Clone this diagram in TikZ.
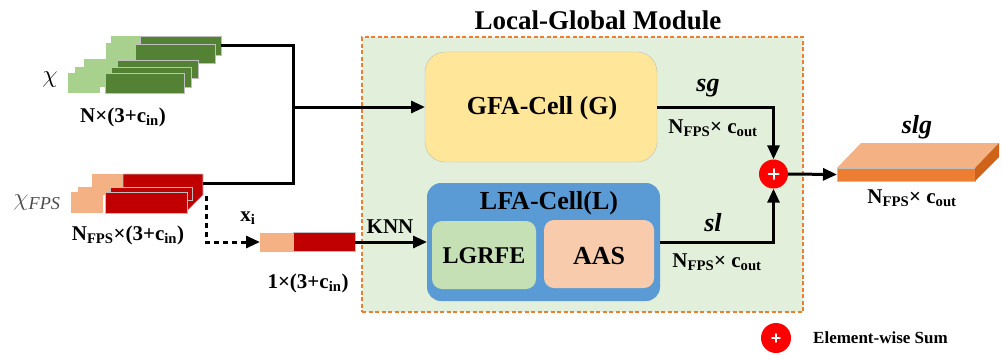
\documentclass[tikz,border=0pt]{standalone}
\usepackage{fontspec}
\setmainfont{Liberation Serif}
\usetikzlibrary{arrows.meta,calc}
\definecolor{lgreen}{HTML}{A9D18E}
\definecolor{dgreen}{HTML}{548235}
\definecolor{lorange}{HTML}{F4B183}
\definecolor{dred}{HTML}{C00000}
\definecolor{frameor}{HTML}{ED7D31}
\definecolor{framebg}{HTML}{E2EFDA}
\definecolor{gfacol}{HTML}{FFE699}
\definecolor{lfacol}{HTML}{5B9BD5}
\definecolor{lgrcol}{HTML}{C5E0B4}
\definecolor{aascol}{HTML}{F8CBAD}
\definecolor{slabtop}{HTML}{F4B183}
\definecolor{slabfront}{HTML}{ED7D31}
\definecolor{slabside}{HTML}{D0631A}
\definecolor{sumred}{HTML}{FF0000}
\definecolor{edgegray}{HTML}{BFBFBF}
\newcommand{\sbs}[1]{\textsubscript{#1}}
\begin{document}
\begin{tikzpicture}[x=1pt,y=-1pt,
  box/.style={inner sep=0pt, outer sep=0pt},
  conn/.style={line width=3pt},
  arr/.style={line width=3pt, -{Triangle[length=14pt,width=12pt]}},
  darr/.style={line width=3pt, dash pattern=on 5pt off 4pt, -{Triangle[length=14pt,width=12pt]}},
  lbl/.style={inner sep=0pt, font=\fontsize{21}{23}\selectfont\bfseries},
  big/.style={inner sep=0pt, font=\fontsize{26}{28}\selectfont\bfseries},
  ital/.style={inner sep=0pt, font=\fontsize{26}{28}\selectfont\bfseries\itshape},
  sumc/.style={circle, fill=sumred, inner sep=0pt, minimum size=#1},
  plus/.style={draw=white, line width=#1, line cap=round},
  piece/.style={draw=edgegray, line width=0.6pt}
]
\useasboundingbox (0,0) rectangle (1003,354);

% module frame
\node[box, draw=frameor, fill=framebg, line width=2pt, dash pattern=on 4pt off 2.5pt,
      minimum width=441, minimum height=275] (lgm) at (582.5,174.5) {};
\node[inner sep=0pt, font=\fontsize{27}{29}\selectfont\bfseries] (title) at (598,20) {Local-Global Module};

% GFA cell
\node[box, draw=edgegray, fill=gfacol, rounded corners=20pt, minimum width=232, minimum height=110] (gfa) at (541,107) {};
\node[big] (gfat) at (542,108) {GFA-Cell (G)};

% LFA cell
\node[box, fill=lfacol, rounded corners=14pt, minimum width=233, minimum height=118] (lfa) at (543.5,242) {};
\node[big] (lfat) at (549,203) {LFA-Cell(L)};
\node[box, fill=lgrcol, rounded corners=10pt, minimum width=104, minimum height=68] (lgr) at (484,255) {};
\node[inner sep=0pt, font=\fontsize{24}{26}\selectfont\bfseries] (lgrt) at (484,256) {LGRFE};
\node[box, fill=aascol, rounded corners=10pt, minimum width=110, minimum height=68] (aas) at (599,254) {};
\node[big] (aast) at (599,256) {AAS};

% green stack (chi)
\fill[lgreen] (111,36) rectangle (140,56);
\node[box, piece, fill=dgreen, minimum width=81, minimum height=19] (g1) at (180.5,45.5) {};
\fill[lgreen] (106,43) rectangle (135,63);
\filldraw[piece, fill=dgreen] (135,44) rectangle (215,63);
\fill[lgreen] (84,59) rectangle (117,78);
\filldraw[piece, fill=dgreen] (117,60) rectangle (198,78);
\fill[lgreen] (75,67) rectangle (107,87);
\filldraw[piece, fill=dgreen] (111,67) rectangle (191,87);
\fill[lgreen] (68,73) rectangle (100,93);
\filldraw[piece, fill=dgreen] (105,73) rectangle (184,93);

% red stack (chi_FPS)
\fill[lorange] (92,174) rectangle (123,190);
\filldraw[piece, fill=dred] (123,174) -- (203,174) -- (203,195) -- (187,211) -- (123,211) -- cycle;
\node[box, minimum width=80, minimum height=18] (r1) at (163,183) {};
\fill[lorange] (78,187) rectangle (110,195);
\filldraw[piece, fill=dred] (110,187) rectangle (192,200);
\fill[lorange] (71,192) rectangle (103,213);
\filldraw[piece, fill=dred] (105,192) rectangle (187,213);
\coordinate (xsrc) at (206,196);

% single point block
\node[box, fill=lorange, minimum width=33, minimum height=19] (sbl) at (276.5,242) {};
\node[box, piece, fill=dred, minimum width=62, minimum height=19] (sbd) at (324,242) {};

% sum and output
\node[sumc=29pt] (sum) at (773.5,174) {};
\draw[plus=2pt] ($(sum.center)+(-5,0)$) -- ($(sum.center)+(5,0)$);
\draw[plus=2pt] ($(sum.center)+(0,-5)$) -- ($(sum.center)+(0,5)$);
\node[box, fill=slabfront, draw=edgegray, line width=0.4pt, minimum width=138, minimum height=13] (slab) at (906,174.5) {};
\fill[slabtop] (slab.north west) -- ++(24,-25) -- ($(slab.north east)+(24,-25)$) -- (slab.north east) -- cycle;
\fill[slabside] (slab.north east) -- ++(24,-25) -- ++(0,14) -- (slab.south east) -- cycle;

% connectors
\coordinate (jn) at (293,107);
\draw[conn] (g1.east) -| (jn) |- (r1.east);
\draw[arr] (jn) -- (gfa.west);
\draw[darr] (xsrc) |- (sbl.west);
\draw[arr] (sbd.east) -- (lfa.west);
\draw[arr] (gfa.east) -| (sum.north);
\draw[arr] (lfa.east) -| (sum.south);
\draw[arr] (sum.east) -- (slab.west);

% labels
\node[inner sep=0pt, font=\fontsize{28}{30}\selectfont] (chil) at (50,80) {$\chi$};
\node[lbl] (nl) at (123,117) {N×(3+c\sbs{in})};
\node[inner sep=0pt, font=\fontsize{26}{28}\selectfont, text=black!70] (chifl) at (37,203) {$\chi_{\mathit{FPS}}$};
\node[lbl] (nfl) at (128,235) {N\sbs{FPS}×(3+c\sbs{in})};
\node[lbl] (xil) at (248,218) {x\sbs{i}};
\node[lbl] (onel) at (308,283) {1×(3+c\sbs{in})};
\node[lbl] (knnl) at (390,227) {KNN};
\node[ital] (sgl) at (708,88) {sg};
\node[lbl] (sgd) at (713,128) {N\sbs{FPS}× c\sbs{out}};
\node[ital] (sll) at (713,223) {sl};
\node[lbl] (sld) at (717,262) {N\sbs{FPS}× c\sbs{out}};
\node[ital] (slgl) at (917,127) {slg};
\node[lbl] (slgd) at (912,198) {N\sbs{FPS}× c\sbs{out}};

% legend
\node[sumc=30pt] (legc) at (776,338) {};
\draw[plus=1.6pt] ($(legc.center)+(-4,0)$) -- ($(legc.center)+(4,0)$);
\draw[plus=1.6pt] ($(legc.center)+(0,-4)$) -- ($(legc.center)+(0,4)$);
\node[inner sep=0pt, anchor=west, font=\fontsize{17}{19}\selectfont\bfseries] (legt) at (813,338) {Element-wise Sum};
\end{tikzpicture}
\end{document}
